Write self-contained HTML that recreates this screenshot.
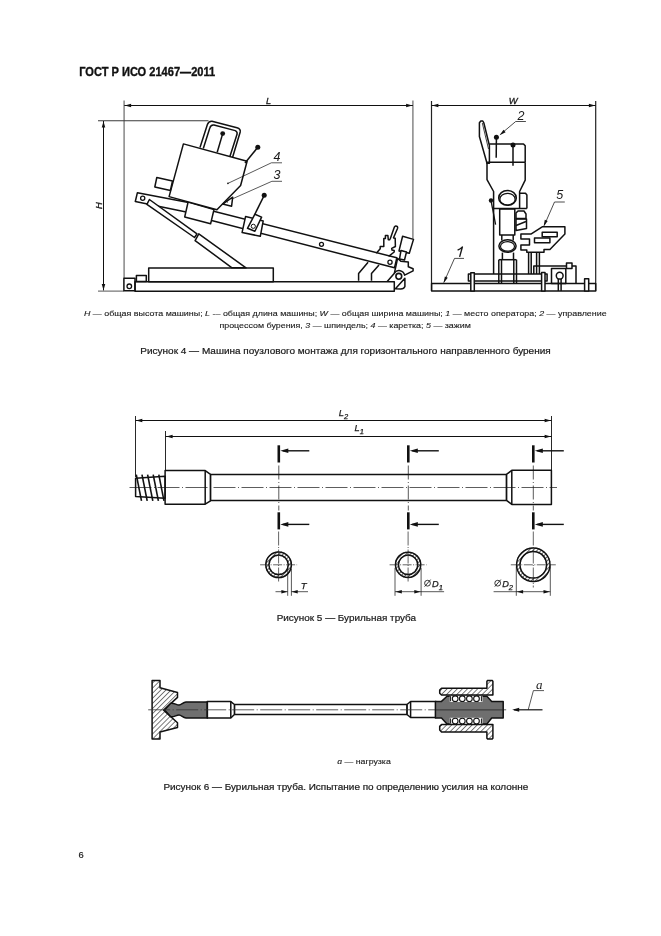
<!DOCTYPE html>
<html><head><meta charset="utf-8"><style>
html,body{margin:0;padding:0;background:#fff;}
body{width:661px;height:936px;overflow:hidden;}
svg{display:block;will-change:transform;font-family:"Liberation Sans",sans-serif;}
</style></head><body>
<svg width="661" height="936" viewBox="0 0 661 936">
<defs><pattern id="hatch" patternUnits="userSpaceOnUse" width="3.6" height="3.6" patternTransform="rotate(45)"><rect width="3.6" height="3.6" fill="#fff"/><line x1="0" y1="0" x2="0" y2="3.6" stroke="#111" stroke-width="1.1"/></pattern><pattern id="hatch2" patternUnits="userSpaceOnUse" width="2.9" height="2.9" patternTransform="rotate(45)"><rect width="2.9" height="2.9" fill="#fff"/><line x1="0" y1="0" x2="0" y2="2.9" stroke="#111" stroke-width="1.3"/></pattern></defs>
<text x="79.20" y="76.20" font-size="12" font-weight="bold" stroke="#111" stroke-width="0.35" text-anchor="start" fill="#111" textLength="136.0" lengthAdjust="spacingAndGlyphs">ГОСТ Р ИСО 21467—2011</text>
<line x1="124.10" y1="100.40" x2="124.10" y2="278.00" stroke="#7e7e7e" stroke-width="1.4" />
<line x1="412.90" y1="100.40" x2="412.90" y2="238.80" stroke="#7e7e7e" stroke-width="1.4" />
<line x1="124.30" y1="105.50" x2="412.90" y2="105.50" stroke="#111" stroke-width="1.0" />
<polygon points="124.80,105.50 131.10,103.75 131.10,107.25" fill="#111"/>
<polygon points="412.40,105.50 406.10,107.25 406.10,103.75" fill="#111"/>
<text x="265.90" y="103.60" font-size="9.2" font-style="italic" stroke="#1a1a1a" stroke-width="0.3" text-anchor="start" fill="#1a1a1a" >L</text>
<line x1="98.00" y1="120.70" x2="208.50" y2="120.70" stroke="#3a3a3a" stroke-width="1.1" />
<line x1="103.50" y1="121.00" x2="103.50" y2="290.50" stroke="#111" stroke-width="1.0" />
<polygon points="103.50,121.30 105.25,127.60 101.75,127.60" fill="#111"/>
<polygon points="103.50,290.30 101.75,284.00 105.25,284.00" fill="#111"/>
<line x1="98.00" y1="291.10" x2="124.00" y2="291.10" stroke="#555" stroke-width="1.0" />
<text x="0.00" y="0.00" font-size="9.4" font-style="italic" stroke="#1a1a1a" stroke-width="0.3" text-anchor="start" fill="#1a1a1a" transform="translate(101.6,209.0) rotate(-90)">H</text>
<polygon points="135.00,281.80 394.30,281.80 394.30,291.20 135.00,291.20" fill="none" stroke="#111" stroke-width="1.5" stroke-linejoin="round" />
<polygon points="123.90,278.20 135.00,278.20 135.00,290.80 123.90,290.80" fill="none" stroke="#111" stroke-width="1.5" stroke-linejoin="round" />
<circle cx="129.30" cy="286.30" r="2.30" fill="none" stroke="#111" stroke-width="1.3"/>
<polygon points="136.40,275.40 146.30,275.40 146.30,281.60 136.40,281.60" fill="none" stroke="#111" stroke-width="1.5" stroke-linejoin="round" />
<polygon points="148.70,268.10 273.30,268.10 273.30,281.80 148.70,281.80" fill="none" stroke="#111" stroke-width="1.5" stroke-linejoin="round" />
<polygon points="137.40,192.70 187.20,202.20 213.70,211.30 396.80,257.80 394.50,267.80 211.60,220.50 185.00,211.80 135.30,201.50" fill="none" stroke="#111" stroke-width="1.5" stroke-linejoin="round" />
<polygon points="149.40,199.50 197.00,233.90 194.50,237.50 146.90,204.40" fill="#fff" stroke="#111" stroke-width="1.5" stroke-linejoin="round" />
<polygon points="198.80,233.90 246.00,267.80 232.00,267.80 195.10,240.60" fill="#fff" stroke="#111" stroke-width="1.5" stroke-linejoin="round" />
<circle cx="142.70" cy="198.30" r="2.10" fill="none" stroke="#111" stroke-width="1.3"/>
<polygon points="188.10,202.00 214.00,209.50 210.60,223.80 184.70,217.00" fill="#fff" stroke="#111" stroke-width="1.5" stroke-linejoin="round" />
<polygon points="245.60,216.40 263.20,220.90 260.30,236.30 242.10,232.40" fill="#fff" stroke="#111" stroke-width="1.5" stroke-linejoin="round" />
<polygon points="254.90,214.20 261.60,217.10 254.90,231.20 247.50,228.30" fill="#fff" stroke="#111" stroke-width="1.5" stroke-linejoin="round" />
<circle cx="253.30" cy="226.30" r="2.10" fill="none" stroke="#111" stroke-width="1.0"/>
<line x1="254.90" y1="214.20" x2="264.20" y2="195.30" stroke="#111" stroke-width="1.5" />
<circle cx="264.20" cy="195.30" r="2.50" fill="#111"/>
<circle cx="321.50" cy="244.30" r="2.00" fill="none" stroke="#111" stroke-width="1.3"/>
<circle cx="390.00" cy="262.30" r="2.10" fill="none" stroke="#111" stroke-width="1.3"/>
<polygon points="183.40,143.90 247.10,161.30 240.60,185.50 216.90,209.80 169.10,196.60" fill="#fff" stroke="#111" stroke-width="1.5" stroke-linejoin="round" />
<polygon points="156.80,177.50 172.50,180.90 170.40,190.40 154.80,187.00" fill="#fff" stroke="#111" stroke-width="1.5" stroke-linejoin="round" />
<path d="M200,147.6 L207.4,124.5 Q208.5,121 212,121.2 L237,127.8 Q240.8,129 240.2,132 L232.6,157.2" fill="none" stroke="#111" stroke-width="1.5"/>
<path d="M203.3,148.4 L209.8,128 Q210.8,124.4 214,125 L235.2,130.6 Q237.5,131.6 237.1,134 L229.9,156.6" fill="none" stroke="#111" stroke-width="1.5"/>
<circle cx="222.70" cy="133.60" r="2.40" fill="#111"/>
<line x1="222.70" y1="133.60" x2="217.20" y2="152.20" stroke="#111" stroke-width="1.5" />
<line x1="245.00" y1="163.00" x2="257.80" y2="147.30" stroke="#111" stroke-width="1.5" />
<circle cx="257.80" cy="147.30" r="2.50" fill="#111"/>
<polygon points="222.60,204.10 232.70,197.20 231.60,206.20" fill="#fff" stroke="#111" stroke-width="1.5" stroke-linejoin="round" />
<circle cx="227.40" cy="202.00" r="0.60" fill="#111"/>
<line x1="227.90" y1="183.40" x2="271.40" y2="162.80" stroke="#111" stroke-width="0.7" />
<line x1="271.40" y1="162.80" x2="282.00" y2="162.80" stroke="#111" stroke-width="0.7" />
<circle cx="227.90" cy="183.40" r="0.80" fill="#111"/>
<line x1="232.50" y1="198.80" x2="271.90" y2="181.30" stroke="#111" stroke-width="0.7" />
<line x1="271.90" y1="181.30" x2="282.00" y2="181.30" stroke="#111" stroke-width="0.7" />
<text x="273.40" y="161.20" font-size="12.5" font-style="italic" text-anchor="start" fill="#1a1a1a" >4</text>
<text x="273.60" y="179.40" font-size="12.5" font-style="italic" text-anchor="start" fill="#1a1a1a" >3</text>
<polyline points="358.60,280.80 358.60,273.60 368.10,262.20" fill="none" stroke="#111" stroke-width="1.5" stroke-linejoin="round" />
<polyline points="371.50,280.80 371.50,273.60 379.00,264.90" fill="none" stroke="#111" stroke-width="1.5" stroke-linejoin="round" />
<path d="M387.2,281.5 L394.4,273.2 A5.6,5.6 0 0,1 404.6,275.2 L413.1,270.8 L413.1,268.8 L408.3,266.8 L408.3,262 L400.8,261.3 L398,258.6" fill="none" stroke="#111" stroke-width="1.5" stroke-linejoin="round"/>
<path d="M395.4,288.8 L404.9,278.3 L404.9,286.6 Q404,289 400.8,289 Z" fill="#fff" stroke="#111" stroke-width="1.5" stroke-linejoin="round"/>
<circle cx="398.80" cy="276.30" r="2.90" fill="#fff" stroke="#111" stroke-width="1.6"/>
<polygon points="402.60,236.30 413.50,239.40 409.30,253.30 399.00,250.90" fill="#fff" stroke="#111" stroke-width="1.5" stroke-linejoin="round" />
<polygon points="401.00,250.50 406.50,252.00 404.50,260.00 399.50,259.00" fill="#fff" stroke="#111" stroke-width="1.5" stroke-linejoin="round" />
<polyline points="376.30,253.30 380.20,248.80 380.20,246.50 383.80,246.50 383.80,238.60 385.40,238.60 385.40,235.60 387.90,235.60 388.30,239.70 390.20,239.70" fill="none" stroke="#111" stroke-width="1.5" stroke-linejoin="round" />
<polyline points="393.30,238.10 395.20,238.30 395.40,246.50 391.70,248.30 392.00,250.10 394.20,250.60 394.20,252.00 388.60,256.40" fill="none" stroke="#111" stroke-width="1.5" stroke-linejoin="round" />
<path d="M390,239.4 L394.3,227.2 Q395.6,225 397.4,226.6 Q397.9,227.4 397.5,228.5 L393.3,238.2" fill="#fff" stroke="#111" stroke-width="1.5" stroke-linejoin="round"/>
<line x1="397.70" y1="257.90" x2="394.40" y2="273.20" stroke="#111" stroke-width="1.5" />
<line x1="431.50" y1="101.00" x2="431.50" y2="291.00" stroke="#222" stroke-width="1.2" />
<line x1="595.70" y1="101.00" x2="595.70" y2="291.00" stroke="#222" stroke-width="1.2" />
<line x1="431.60" y1="105.50" x2="595.70" y2="105.50" stroke="#111" stroke-width="1.0" />
<polygon points="432.10,105.50 438.40,103.75 438.40,107.25" fill="#111"/>
<polygon points="595.20,105.50 588.90,107.25 588.90,103.75" fill="#111"/>
<text x="508.70" y="103.60" font-size="9.4" font-style="italic" stroke="#1a1a1a" stroke-width="0.3" text-anchor="start" fill="#1a1a1a" >W</text>
<polygon points="431.60,283.60 595.70,283.60 595.70,291.00 431.60,291.00" fill="none" stroke="#111" stroke-width="1.5" stroke-linejoin="round" />
<path d="M457.6,250.2 Q460.6,248.9 462.4,247.0 L459.6,256.9" fill="none" stroke="#1a1a1a" stroke-width="1.35" stroke-linejoin="round"/>
<line x1="454.50" y1="258.40" x2="464.00" y2="258.40" stroke="#111" stroke-width="0.75" />
<line x1="454.50" y1="258.40" x2="443.80" y2="282.50" stroke="#111" stroke-width="0.75" />
<polygon points="443.60,283.00 444.88,276.43 447.78,277.77" fill="#111"/>
<polygon points="479.40,122.80 480.80,121.00 482.80,121.00 483.80,122.80 489.40,145.50 489.40,163.30 487.00,163.30 479.40,136.50" fill="none" stroke="#111" stroke-width="1.5" stroke-linejoin="round" />
<line x1="482.30" y1="123.00" x2="488.50" y2="149.00" stroke="#111" stroke-width="0.8" />
<polyline points="489.40,143.90 523.50,143.90 525.20,145.80 525.20,162.30" fill="none" stroke="#111" stroke-width="1.5" stroke-linejoin="round" />
<line x1="487.20" y1="162.30" x2="525.20" y2="162.30" stroke="#111" stroke-width="1.5" />
<circle cx="496.40" cy="137.20" r="2.50" fill="#111"/>
<line x1="496.40" y1="137.20" x2="496.20" y2="157.80" stroke="#111" stroke-width="1.5" />
<circle cx="513.00" cy="145.10" r="2.50" fill="#111"/>
<line x1="513.00" y1="145.10" x2="513.00" y2="165.70" stroke="#111" stroke-width="1.5" />
<text x="517.60" y="119.80" font-size="12.5" font-style="italic" text-anchor="start" fill="#1a1a1a" >2</text>
<line x1="515.70" y1="121.50" x2="525.90" y2="121.50" stroke="#111" stroke-width="0.75" />
<line x1="515.70" y1="121.50" x2="500.50" y2="134.30" stroke="#111" stroke-width="0.75" />
<polygon points="499.60,135.20 503.55,129.80 505.61,132.25" fill="#111"/>
<polyline points="487.00,162.30 487.00,179.60 493.60,191.50 493.60,274.00" fill="none" stroke="#111" stroke-width="1.5" stroke-linejoin="round" />
<polyline points="525.20,162.30 525.20,180.20 519.60,191.50 519.60,208.40" fill="none" stroke="#111" stroke-width="1.5" stroke-linejoin="round" />
<line x1="493.60" y1="208.40" x2="526.90" y2="208.40" stroke="#111" stroke-width="1.5" />
<ellipse cx="507.5" cy="197.9" rx="8.8" ry="7.4" fill="none" stroke="#111" stroke-width="1.5"/>
<ellipse cx="507.5" cy="199.2" rx="7.6" ry="5.8" fill="none" stroke="#111" stroke-width="1.2"/>
<polyline points="519.60,193.30 525.50,193.30 526.90,195.00 526.90,208.40" fill="none" stroke="#111" stroke-width="1.5" stroke-linejoin="round" />
<polygon points="499.70,209.00 514.80,209.00 514.80,235.00 499.70,235.00" fill="none" stroke="#111" stroke-width="1.5" stroke-linejoin="round" />
<line x1="491.00" y1="200.50" x2="495.60" y2="224.60" stroke="#111" stroke-width="1.3" />
<circle cx="491.00" cy="200.50" r="2.20" fill="#111"/>
<polygon points="516.00,213.00 518.00,211.00 524.00,211.00 526.00,214.00 526.00,218.50 516.00,218.50" fill="none" stroke="#111" stroke-width="1.5" stroke-linejoin="round" />
<polygon points="516.00,219.00 526.50,219.00 526.50,228.50 516.00,230.50" fill="none" stroke="#111" stroke-width="1.5" stroke-linejoin="round" />
<line x1="516.00" y1="225.50" x2="526.00" y2="221.50" stroke="#111" stroke-width="1.5" />
<ellipse cx="507.5" cy="246" rx="8.6" ry="6.2" fill="none" stroke="#111" stroke-width="1.5"/>
<ellipse cx="507.5" cy="246.4" rx="7.0" ry="4.8" fill="none" stroke="#111" stroke-width="1.2"/>
<line x1="501.80" y1="235.00" x2="501.80" y2="240.50" stroke="#111" stroke-width="1.5" />
<line x1="513.20" y1="235.00" x2="513.20" y2="240.50" stroke="#111" stroke-width="1.5" />
<line x1="502.40" y1="252.60" x2="502.40" y2="259.70" stroke="#111" stroke-width="1.5" />
<line x1="513.50" y1="252.60" x2="513.50" y2="259.70" stroke="#111" stroke-width="1.5" />
<polyline points="498.80,259.70 516.50,259.70" fill="none" stroke="#111" stroke-width="1.5" stroke-linejoin="round" />
<line x1="498.80" y1="259.70" x2="498.80" y2="283.60" stroke="#111" stroke-width="1.5" />
<line x1="501.50" y1="259.70" x2="501.50" y2="283.60" stroke="#111" stroke-width="1.5" />
<line x1="516.50" y1="259.70" x2="516.50" y2="283.60" stroke="#111" stroke-width="1.5" />
<line x1="513.80" y1="259.70" x2="513.80" y2="283.60" stroke="#111" stroke-width="1.5" />
<polygon points="468.40,274.10 547.10,274.10 547.10,281.00 468.40,281.00" fill="none" stroke="#111" stroke-width="1.5" stroke-linejoin="round" />
<polygon points="470.80,272.70 474.30,272.70 474.30,291.00 470.80,291.00" fill="#fff" stroke="#111" stroke-width="1.5" stroke-linejoin="round" />
<polygon points="541.60,272.40 545.00,272.40 545.00,291.00 541.60,291.00" fill="#fff" stroke="#111" stroke-width="1.5" stroke-linejoin="round" />
<polygon points="542.20,226.80 564.90,226.80 564.90,234.10 549.90,249.50 544.00,249.50 544.00,252.20 526.80,252.20 526.80,249.90 520.90,249.90 520.90,245.00 529.50,245.00 529.50,239.00 520.90,239.00 520.90,234.10 530.90,234.10" fill="none" stroke="#111" stroke-width="1.5" stroke-linejoin="round" />
<polygon points="542.20,232.20 557.20,232.20 557.20,236.80 542.20,236.80" fill="none" stroke="#111" stroke-width="1.5" stroke-linejoin="round" />
<polygon points="534.50,238.10 549.90,238.10 549.90,242.70 534.50,242.70" fill="none" stroke="#111" stroke-width="1.5" stroke-linejoin="round" />
<line x1="528.60" y1="252.20" x2="528.60" y2="274.00" stroke="#111" stroke-width="1.5" />
<line x1="531.20" y1="252.20" x2="531.20" y2="274.00" stroke="#111" stroke-width="1.5" />
<line x1="536.60" y1="252.20" x2="536.60" y2="274.00" stroke="#111" stroke-width="1.5" />
<line x1="539.40" y1="252.20" x2="539.40" y2="274.00" stroke="#111" stroke-width="1.5" />
<polygon points="551.50,268.60 565.80,268.60 565.80,283.60 551.50,283.60" fill="none" stroke="#111" stroke-width="1.5" stroke-linejoin="round" />
<circle cx="559.70" cy="275.70" r="3.40" fill="#fff" stroke="#111" stroke-width="1.5"/>
<line x1="558.30" y1="279.00" x2="558.30" y2="291.00" stroke="#111" stroke-width="1.5" />
<line x1="561.10" y1="279.00" x2="561.10" y2="291.00" stroke="#111" stroke-width="1.5" />
<polyline points="533.80,274.00 533.80,265.90 576.00,265.90 576.00,283.60" fill="none" stroke="#111" stroke-width="1.5" stroke-linejoin="round" />
<polygon points="566.50,263.00 572.00,263.00 572.00,268.60 566.50,268.60" fill="#fff" stroke="#111" stroke-width="1.5" stroke-linejoin="round" />
<polygon points="584.60,278.80 588.70,278.80 588.70,291.00 584.60,291.00" fill="#fff" stroke="#111" stroke-width="1.5" stroke-linejoin="round" />
<text x="556.30" y="199.40" font-size="12.5" font-style="italic" text-anchor="start" fill="#1a1a1a" >5</text>
<line x1="554.50" y1="202.00" x2="564.80" y2="202.00" stroke="#111" stroke-width="0.75" />
<line x1="554.50" y1="202.00" x2="544.20" y2="225.50" stroke="#111" stroke-width="0.75" />
<polygon points="543.60,226.40 544.78,219.81 547.70,221.11" fill="#111"/>
<text x="345.30" y="315.60" font-size="8" stroke="#1a1a1a" stroke-width="0.12" text-anchor="middle" fill="#1a1a1a" textLength="522.7" lengthAdjust="spacingAndGlyphs"><tspan font-style="italic">H</tspan> —  общая высота машины; <tspan font-style="italic">L</tspan> -– общая длина машины; <tspan font-style="italic">W</tspan> — общая ширина машины; <tspan font-style="italic">1</tspan> — место оператора; <tspan font-style="italic">2</tspan> — управление</text>
<text x="345.10" y="327.70" font-size="8" stroke="#1a1a1a" stroke-width="0.12" text-anchor="middle" fill="#1a1a1a" textLength="251.4" lengthAdjust="spacingAndGlyphs">процессом бурения, <tspan font-style="italic">3</tspan> — шпиндель; <tspan font-style="italic">4</tspan> — каретка; <tspan font-style="italic">5</tspan> — зажим</text>
<text x="345.50" y="354.20" font-size="9" stroke="#1a1a1a" stroke-width="0.2" text-anchor="middle" fill="#1a1a1a" textLength="410.4" lengthAdjust="spacingAndGlyphs">Рисунок 4 — Машина поузлового монтажа для горизонтального направленного бурения</text>
<line x1="135.50" y1="416.00" x2="135.50" y2="477.00" stroke="#111" stroke-width="0.9" />
<line x1="165.50" y1="431.00" x2="165.50" y2="470.60" stroke="#111" stroke-width="0.9" />
<line x1="551.50" y1="416.00" x2="551.50" y2="470.30" stroke="#111" stroke-width="0.9" />
<line x1="135.50" y1="420.50" x2="551.50" y2="420.50" stroke="#111" stroke-width="1.0" />
<polygon points="136.00,420.50 142.30,418.75 142.30,422.25" fill="#111"/>
<polygon points="550.90,420.50 544.60,422.25 544.60,418.75" fill="#111"/>
<line x1="165.50" y1="436.50" x2="551.50" y2="436.50" stroke="#111" stroke-width="1.0" />
<polygon points="166.30,436.50 172.60,434.75 172.60,438.25" fill="#111"/>
<polygon points="550.90,436.50 544.60,438.25 544.60,434.75" fill="#111"/>
<text x="338.80" y="415.90" font-size="9.4" font-style="italic" stroke="#1a1a1a" stroke-width="0.25" text-anchor="start" fill="#1a1a1a" >L<tspan font-size="7.5" dy="2.8">2</tspan></text>
<text x="354.60" y="430.90" font-size="9.4" font-style="italic" stroke="#1a1a1a" stroke-width="0.25" text-anchor="start" fill="#1a1a1a" >L<tspan font-size="7.5" dy="2.8">1</tspan></text>
<line x1="129.50" y1="487.50" x2="557.00" y2="487.50" stroke="#333" stroke-width="0.8" stroke-dasharray="22,2.5,1,2.5"/>
<polygon points="135.60,478.20 165.10,476.30 165.10,498.30 135.60,496.40" fill="none" stroke="#111" stroke-width="1.5" stroke-linejoin="round" />
<line x1="136.30" y1="474.60" x2="141.50" y2="500.80" stroke="#111" stroke-width="1.6" />
<line x1="142.00" y1="474.60" x2="147.20" y2="500.80" stroke="#111" stroke-width="1.6" />
<line x1="147.60" y1="474.60" x2="152.80" y2="500.80" stroke="#111" stroke-width="1.6" />
<line x1="153.20" y1="474.60" x2="158.40" y2="500.80" stroke="#111" stroke-width="1.6" />
<line x1="158.80" y1="474.60" x2="164.00" y2="500.80" stroke="#111" stroke-width="1.6" />
<polygon points="165.10,470.60 205.20,470.60 210.50,474.40 210.50,500.80 205.20,504.20 165.10,504.20" fill="none" stroke="#111" stroke-width="1.5" stroke-linejoin="round" />
<line x1="205.20" y1="470.60" x2="205.20" y2="504.20" stroke="#111" stroke-width="1.5" />
<line x1="210.50" y1="474.40" x2="210.50" y2="500.80" stroke="#111" stroke-width="1.3" />
<line x1="210.50" y1="474.60" x2="506.50" y2="474.60" stroke="#111" stroke-width="1.5" />
<line x1="210.50" y1="500.60" x2="506.50" y2="500.60" stroke="#111" stroke-width="1.5" />
<polygon points="551.40,470.30 511.80,470.30 506.50,474.40 506.50,500.40 511.80,504.40 551.40,504.40" fill="none" stroke="#111" stroke-width="1.5" stroke-linejoin="round" />
<line x1="511.80" y1="470.30" x2="511.80" y2="504.40" stroke="#111" stroke-width="1.5" />
<line x1="506.50" y1="474.40" x2="506.50" y2="500.40" stroke="#111" stroke-width="1.3" />
<line x1="278.80" y1="445.30" x2="278.80" y2="462.50" stroke="#111" stroke-width="2.6" />
<line x1="282.80" y1="450.80" x2="309.30" y2="450.80" stroke="#111" stroke-width="1.4" />
<polygon points="280.30,450.80 288.30,448.50 288.30,453.10" fill="#111"/>
<line x1="278.80" y1="512.30" x2="278.80" y2="529.40" stroke="#111" stroke-width="2.6" />
<line x1="282.80" y1="524.40" x2="309.30" y2="524.40" stroke="#111" stroke-width="1.4" />
<polygon points="280.30,524.40 288.30,522.10 288.30,526.70" fill="#111"/>
<line x1="278.80" y1="465.50" x2="278.80" y2="510.50" stroke="#111" stroke-width="0.7" stroke-dasharray="14,2.5,1,2.5"/>
<line x1="408.30" y1="445.30" x2="408.30" y2="462.50" stroke="#111" stroke-width="2.6" />
<line x1="412.30" y1="450.80" x2="438.80" y2="450.80" stroke="#111" stroke-width="1.4" />
<polygon points="409.80,450.80 417.80,448.50 417.80,453.10" fill="#111"/>
<line x1="408.30" y1="512.30" x2="408.30" y2="529.40" stroke="#111" stroke-width="2.6" />
<line x1="412.30" y1="524.40" x2="438.80" y2="524.40" stroke="#111" stroke-width="1.4" />
<polygon points="409.80,524.40 417.80,522.10 417.80,526.70" fill="#111"/>
<line x1="408.30" y1="465.50" x2="408.30" y2="510.50" stroke="#111" stroke-width="0.7" stroke-dasharray="14,2.5,1,2.5"/>
<line x1="533.30" y1="445.30" x2="533.30" y2="462.50" stroke="#111" stroke-width="2.6" />
<line x1="537.30" y1="450.80" x2="563.80" y2="450.80" stroke="#111" stroke-width="1.4" />
<polygon points="534.80,450.80 542.80,448.50 542.80,453.10" fill="#111"/>
<line x1="533.30" y1="512.30" x2="533.30" y2="529.40" stroke="#111" stroke-width="2.6" />
<line x1="537.30" y1="524.40" x2="563.80" y2="524.40" stroke="#111" stroke-width="1.4" />
<polygon points="534.80,524.40 542.80,522.10 542.80,526.70" fill="#111"/>
<line x1="533.30" y1="465.50" x2="533.30" y2="510.50" stroke="#111" stroke-width="0.7" stroke-dasharray="14,2.5,1,2.5"/>
<path d="M265.10,564.8 a13.5,13.5 0 1,0 27.0,0 a13.5,13.5 0 1,0 -27.0,0 Z M269.60,564.8 a9.0,9.0 0 1,0 18.0,0 a9.0,9.0 0 1,0 -18.0,0 Z" fill="url(#hatch2)" fill-rule="evenodd" stroke="none"/>
<circle cx="278.60" cy="564.80" r="12.80" fill="none" stroke="#111" stroke-width="1.5"/>
<circle cx="278.60" cy="564.80" r="9.70" fill="none" stroke="#111" stroke-width="1.5"/>
<line x1="278.60" y1="531.50" x2="278.60" y2="583.00" stroke="#222" stroke-width="0.7" stroke-dasharray="14,1.5,1,1.5"/>
<line x1="260.10" y1="564.80" x2="297.10" y2="564.80" stroke="#222" stroke-width="0.7" stroke-dasharray="9,1.5,1,1.5"/>
<path d="M394.80,564.8 a13.3,13.3 0 1,0 26.6,0 a13.3,13.3 0 1,0 -26.6,0 Z M399.10,564.8 a9.0,9.0 0 1,0 18.0,0 a9.0,9.0 0 1,0 -18.0,0 Z" fill="url(#hatch2)" fill-rule="evenodd" stroke="none"/>
<circle cx="408.10" cy="564.80" r="12.60" fill="none" stroke="#111" stroke-width="1.5"/>
<circle cx="408.10" cy="564.80" r="9.70" fill="none" stroke="#111" stroke-width="1.5"/>
<line x1="408.10" y1="531.50" x2="408.10" y2="583.00" stroke="#222" stroke-width="0.7" stroke-dasharray="14,1.5,1,1.5"/>
<line x1="389.60" y1="564.80" x2="426.60" y2="564.80" stroke="#222" stroke-width="0.7" stroke-dasharray="9,1.5,1,1.5"/>
<path d="M515.90,564.8 a17.4,17.4 0 1,0 34.8,0 a17.4,17.4 0 1,0 -34.8,0 Z M520.70,564.8 a12.6,12.6 0 1,0 25.2,0 a12.6,12.6 0 1,0 -25.2,0 Z" fill="url(#hatch2)" fill-rule="evenodd" stroke="none"/>
<circle cx="533.30" cy="564.80" r="16.70" fill="none" stroke="#111" stroke-width="1.5"/>
<circle cx="533.30" cy="564.80" r="13.30" fill="none" stroke="#111" stroke-width="1.5"/>
<line x1="533.30" y1="531.50" x2="533.30" y2="587.50" stroke="#222" stroke-width="0.7" stroke-dasharray="14,1.5,1,1.5"/>
<line x1="510.80" y1="564.80" x2="555.80" y2="564.80" stroke="#222" stroke-width="0.7" stroke-dasharray="9,1.5,1,1.5"/>
<line x1="287.70" y1="568.60" x2="287.70" y2="595.80" stroke="#111" stroke-width="0.7" />
<line x1="291.40" y1="568.60" x2="291.40" y2="595.80" stroke="#111" stroke-width="0.7" />
<line x1="275.50" y1="591.70" x2="287.70" y2="591.70" stroke="#111" stroke-width="0.7" />
<polygon points="287.40,591.70 281.40,593.40 281.40,590.00" fill="#111"/>
<line x1="291.40" y1="591.70" x2="308.00" y2="591.70" stroke="#111" stroke-width="0.7" />
<polygon points="291.70,591.70 297.70,590.00 297.70,593.40" fill="#111"/>
<text x="300.80" y="589.00" font-size="9.6" font-style="italic" stroke="#1a1a1a" stroke-width="0.25" text-anchor="start" fill="#1a1a1a" >T</text>
<line x1="395.00" y1="567.80" x2="395.00" y2="595.80" stroke="#111" stroke-width="0.7" />
<line x1="421.10" y1="567.80" x2="421.10" y2="595.80" stroke="#111" stroke-width="0.7" />
<line x1="395.00" y1="591.70" x2="444.10" y2="591.70" stroke="#111" stroke-width="0.7" />
<polygon points="395.50,591.70 401.80,589.95 401.80,593.45" fill="#111"/>
<polygon points="420.60,591.70 414.30,593.45 414.30,589.95" fill="#111"/>
<text x="432.00" y="586.70" font-size="9.2" font-style="italic" stroke="#1a1a1a" stroke-width="0.25" text-anchor="start" fill="#1a1a1a" >D<tspan font-size="7.5" dy="2.8">1</tspan></text>
<circle cx="427.50" cy="583.20" r="2.90" fill="none" stroke="#222" stroke-width="0.9"/>
<line x1="424.60" y1="586.60" x2="430.60" y2="579.60" stroke="#222" stroke-width="0.9" />
<line x1="516.30" y1="566.30" x2="516.30" y2="595.80" stroke="#111" stroke-width="0.7" />
<line x1="550.30" y1="566.30" x2="550.30" y2="595.80" stroke="#111" stroke-width="0.7" />
<line x1="493.60" y1="591.70" x2="550.30" y2="591.70" stroke="#111" stroke-width="0.7" />
<polygon points="516.80,591.70 523.10,589.95 523.10,593.45" fill="#111"/>
<polygon points="549.80,591.70 543.50,593.45 543.50,589.95" fill="#111"/>
<text x="502.20" y="586.70" font-size="9.2" font-style="italic" stroke="#1a1a1a" stroke-width="0.25" text-anchor="start" fill="#1a1a1a" >D<tspan font-size="7.5" dy="2.8">2</tspan></text>
<circle cx="497.70" cy="583.20" r="2.90" fill="none" stroke="#222" stroke-width="0.9"/>
<line x1="494.80" y1="586.60" x2="500.80" y2="579.60" stroke="#222" stroke-width="0.9" />
<text x="346.40" y="621.20" font-size="9" stroke="#1a1a1a" stroke-width="0.2" text-anchor="middle" fill="#1a1a1a" textLength="139.4" lengthAdjust="spacingAndGlyphs">Рисунок 5 — Бурильная труба</text>
<polygon points="152.10,680.40 160.00,680.40 160.00,687.70 177.50,692.50 177.50,697.40 163.60,710.10 177.50,722.80 177.50,727.60 160.00,731.90 160.00,739.10 152.10,739.10" fill="url(#hatch)" stroke="#111" stroke-width="1.5" stroke-linejoin="round" />
<path d="M164.6,710 L170.8,703.2 C174,702.6 176.5,705.2 179.1,705.1 C181.5,705 183,702.3 186,702.1 L207.4,702.1 L207.4,717.9 L186,717.9 C183,717.7 181.5,715 179.1,714.9 C176.5,714.8 174,717.4 170.8,716.8 Z" fill="#6f6f6f" stroke="#111" stroke-width="1.5" stroke-linejoin="round"/>
<polygon points="207.20,701.60 230.80,701.60 234.40,704.50 234.40,714.50 230.80,718.00 207.20,718.00" fill="none" stroke="#111" stroke-width="1.5" stroke-linejoin="round" />
<line x1="230.80" y1="701.60" x2="230.80" y2="718.00" stroke="#111" stroke-width="1.5" />
<line x1="234.60" y1="704.50" x2="234.60" y2="714.50" stroke="#111" stroke-width="1.2" />
<line x1="234.40" y1="704.60" x2="407.00" y2="704.60" stroke="#111" stroke-width="1.5" />
<line x1="234.40" y1="714.40" x2="407.00" y2="714.40" stroke="#111" stroke-width="1.5" />
<polygon points="436.00,701.50 410.60,701.50 407.00,704.50 407.00,714.50 410.60,717.50 436.00,717.50" fill="none" stroke="#111" stroke-width="1.5" stroke-linejoin="round" />
<line x1="410.60" y1="701.50" x2="410.60" y2="717.50" stroke="#111" stroke-width="1.5" />
<line x1="407.00" y1="704.50" x2="407.00" y2="714.50" stroke="#111" stroke-width="1.2" />
<line x1="148.20" y1="709.80" x2="508.60" y2="709.80" stroke="#333" stroke-width="0.8" stroke-dasharray="22,2.5,1,2.5"/>
<polygon points="435.40,701.40 441.50,701.40 447.00,696.20 486.90,696.20 491.70,701.40 503.20,701.40 503.20,718.00 491.70,718.00 486.90,724.00 447.00,724.00 441.50,718.00 435.40,718.00" fill="#6f6f6f" stroke="#111" stroke-width="1.5" stroke-linejoin="round" />
<line x1="436.00" y1="709.90" x2="503.00" y2="709.90" stroke="#222" stroke-width="0.8" />
<rect x="449.8" y="695.40" width="32.6" height="6.6" fill="#fff"/>
<circle cx="455.20" cy="698.70" r="2.85" fill="#fff" stroke="#111" stroke-width="1.1"/>
<circle cx="462.30" cy="698.70" r="2.85" fill="#fff" stroke="#111" stroke-width="1.1"/>
<circle cx="469.40" cy="698.70" r="2.85" fill="#fff" stroke="#111" stroke-width="1.1"/>
<circle cx="476.50" cy="698.70" r="2.85" fill="#fff" stroke="#111" stroke-width="1.1"/>
<line x1="450.60" y1="696.10" x2="450.60" y2="701.30" stroke="#111" stroke-width="1.0" />
<line x1="481.40" y1="696.10" x2="481.40" y2="701.30" stroke="#111" stroke-width="1.0" />
<rect x="449.8" y="717.80" width="32.6" height="6.6" fill="#fff"/>
<circle cx="455.20" cy="721.10" r="2.85" fill="#fff" stroke="#111" stroke-width="1.1"/>
<circle cx="462.30" cy="721.10" r="2.85" fill="#fff" stroke="#111" stroke-width="1.1"/>
<circle cx="469.40" cy="721.10" r="2.85" fill="#fff" stroke="#111" stroke-width="1.1"/>
<circle cx="476.50" cy="721.10" r="2.85" fill="#fff" stroke="#111" stroke-width="1.1"/>
<line x1="450.60" y1="718.50" x2="450.60" y2="723.70" stroke="#111" stroke-width="1.0" />
<line x1="481.40" y1="718.50" x2="481.40" y2="723.70" stroke="#111" stroke-width="1.0" />
<polygon points="441.50,688.30 486.90,688.30 486.90,681.30 487.80,680.40 492.00,680.40 492.90,681.30 492.90,695.00 441.50,695.00 439.70,693.30 439.70,690.00" fill="url(#hatch)" stroke="#111" stroke-width="1.5" stroke-linejoin="round" />
<polygon points="441.50,731.90 486.90,731.90 486.90,738.20 487.80,739.10 492.00,739.10 492.90,738.20 492.90,724.60 441.50,724.60 439.70,726.30 439.70,730.00" fill="url(#hatch)" stroke="#111" stroke-width="1.5" stroke-linejoin="round" />
<line x1="514.00" y1="709.80" x2="542.50" y2="709.80" stroke="#111" stroke-width="1.2" />
<polygon points="512.20,709.80 519.20,707.80 519.20,711.80" fill="#111"/>
<line x1="528.20" y1="709.80" x2="533.40" y2="690.60" stroke="#111" stroke-width="0.7" />
<line x1="533.40" y1="690.60" x2="544.00" y2="690.60" stroke="#111" stroke-width="0.7" />
<text x="536.00" y="689.00" font-size="13" font-style="italic" text-anchor="start" fill="#1a1a1a" font-family="Liberation Serif">a</text>
<text x="364.00" y="764.20" font-size="8" stroke="#1a1a1a" stroke-width="0.12" text-anchor="middle" fill="#1a1a1a" textLength="53.6" lengthAdjust="spacingAndGlyphs"><tspan font-style="italic" font-family="Liberation Serif" font-size="9">a</tspan> — нагрузка</text>
<text x="345.80" y="790.30" font-size="9" stroke="#1a1a1a" stroke-width="0.2" text-anchor="middle" fill="#1a1a1a" textLength="364.8" lengthAdjust="spacingAndGlyphs">Рисунок 6 — Бурильная труба. Испытание по определению усилия на колонне</text>
<text x="78.50" y="857.70" font-size="9.3" stroke="#1a1a1a" stroke-width="0.2" text-anchor="start" fill="#1a1a1a" >6</text>
</svg>
</body></html>
